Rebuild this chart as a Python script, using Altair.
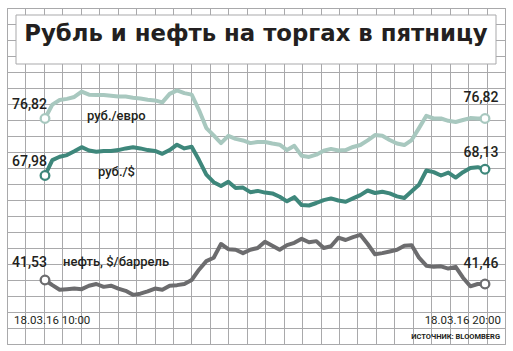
import altair as alt
import pandas as pd

# ---- data ----
times = pd.date_range("2016-03-18 10:00", periods=61, freq="10min")

euro = [76.82, 77.18, 77.30, 77.33, 77.38, 77.52, 77.44, 77.43, 77.43, 77.41,
        77.39, 77.39, 77.36, 77.34, 77.31, 77.29, 77.24, 77.46, 77.55, 77.48,
        77.44, 77.04, 76.57, 76.38, 76.18, 76.37, 76.29, 76.25, 76.18, 76.21,
        76.21, 76.17, 76.14, 76.00, 76.11, 75.85, 75.82, 75.88, 75.98, 76.03,
        75.99, 76.00, 76.08, 76.13, 76.25, 76.39, 76.37, 76.26, 76.17, 76.13,
        76.26, 76.57, 76.89, 76.82, 76.82, 76.76, 76.73, 76.78, 76.83, 76.82,
        76.82]

usd = [67.98, 68.35, 68.43, 68.47, 68.56, 68.66, 68.58, 68.55, 68.57, 68.57,
       68.59, 68.63, 68.66, 68.63, 68.59, 68.57, 68.50, 68.59, 68.72, 68.63,
       68.67, 68.35, 68.00, 67.82, 67.73, 67.83, 67.68, 67.69, 67.58, 67.61,
       67.57, 67.55, 67.47, 67.36, 67.46, 67.27, 67.26, 67.32, 67.39, 67.43,
       67.38, 67.35, 67.43, 67.51, 67.62, 67.56, 67.59, 67.55, 67.48, 67.44,
       67.60, 67.76, 68.10, 68.06, 67.98, 68.05, 67.93, 68.06, 68.16, 68.18,
       68.13]

oil = [41.53, 41.44, 41.36, 41.37, 41.38, 41.37, 41.43, 41.46, 41.41, 41.43,
       41.38, 41.34, 41.27, 41.29, 41.33, 41.38, 41.36, 41.43, 41.44, 41.46,
       41.53, 41.71, 41.86, 41.92, 42.16, 42.07, 42.06, 42.00, 42.06, 42.09,
       42.20, 42.13, 42.06, 42.14, 42.18, 42.25, 42.19, 42.21, 42.09, 42.12,
       42.27, 42.23, 42.28, 42.32, 42.16, 41.98, 42.00, 42.03, 42.06, 42.13,
       42.14, 41.92, 41.78, 41.76, 41.77, 41.73, 41.76, 41.57, 41.42, 41.46,
       41.46]

series_names = ["руб./евро", "руб./$", "нефть, $/баррель"]
start_labels = ["76,82", "67,98", "41,53"]
end_labels = ["76,82", "68,13", "41,46"]
title_text = "Рубль и нефть на торгах в пятницу"
date_start = "18.03.16 10:00"
date_end = "18.03.16 20:00"
source_text = "ИСТОЧНИК: BLOOMBERG"

# ---- styling ----
W, H = 498, 336
GRID = "#a9a9ab"
TEXT = "#231f20"
colors = ["#a8c8bf", "#3e877b", "#6c6c6e"]
domains = [[70.957, 79.693], [63.936, 72.0], [40.41, 46.29]]
label_offsets = [(-10, -17), (-9.5, -12), (-13.5, -15.7)]  # (start dy, end dy)
name_pos = [(80, 112), (91, 168), (56, 258)]

xscale = alt.Scale(
    domain=[alt.DateTime(year=2016, month=3, date=18, hours=9, minutes=8, seconds=11),
            alt.DateTime(year=2016, month=3, date=18, hours=20, minutes=27, seconds=16)],
    nice=False,
)

layers = []

# grid
grid_df = pd.DataFrame({"gx": [0, 27], "gy": [0, 21]})
grid = alt.Chart(grid_df).mark_point(opacity=0).encode(
    x=alt.X("gx:Q", scale=alt.Scale(domain=[0, 27], nice=False, zero=False),
            axis=alt.Axis(values=list(range(28)), grid=True, gridColor=GRID, gridWidth=1,
                          labels=False, ticks=False, domain=False, title=None)),
    y=alt.Y("gy:Q", scale=alt.Scale(domain=[0, 21], nice=False, zero=False),
            axis=alt.Axis(values=list(range(22)), grid=True, gridColor=GRID, gridWidth=1,
                          labels=False, ticks=False, domain=False, title=None)),
)
layers.append(grid)

# title box
box = alt.Chart(pd.DataFrame({"t": [title_text]})).mark_rect(
    fill="white", stroke=GRID, strokeWidth=1
).encode(x=alt.value(9), x2=alt.value(489), y=alt.value(7), y2=alt.value(56))
layers.append(box)

title = alt.Chart(pd.DataFrame({"t": [title_text]})).mark_text(
    font="DejaVu Sans", fontSize=22.8, fontWeight="bold", color=TEXT, align="center",
    baseline="alphabetic"
).encode(text="t:N", x=alt.value(249), y=alt.value(33))
layers.append(title)

for vals, col, dom, (dy0, dy1), lbl0, lbl1, name, (nx, ny) in zip(
        [euro, usd, oil], colors, domains, label_offsets, start_labels, end_labels,
        series_names, name_pos):
    df = pd.DataFrame({"time": times, "value": vals})
    ysc = alt.Scale(domain=dom, nice=False, zero=False)
    X = alt.X("time:T", scale=xscale, axis=None)
    Y = alt.Y("value:Q", scale=ysc, axis=None)
    line = alt.Chart(df).mark_line(color=col, strokeWidth=4, strokeJoin="round",
                                   strokeCap="round").encode(x=X, y=Y)
    ends = pd.DataFrame({"time": [times[0], times[-1]], "value": [vals[0], vals[-1]],
                         "label": [lbl0, lbl1]})
    pts = alt.Chart(ends).mark_point(shape="circle", size=75, filled=True, fill="white",
                                     stroke=col, strokeWidth=2.3, opacity=1).encode(x=X, y=Y)
    t0 = alt.Chart(ends.iloc[[0]]).mark_text(
        font="Roboto", fontSize=14, fontWeight=500, color=TEXT, align="right",
        baseline="alphabetic", dx=2, dy=dy0).encode(x=X, y=Y, text="label:N")
    t1 = alt.Chart(ends.iloc[[1]]).mark_text(
        font="Roboto", fontSize=14, fontWeight=500, color=TEXT, align="right",
        baseline="alphabetic", dx=13.5, dy=dy1).encode(x=X, y=Y, text="label:N")
    nm = alt.Chart(pd.DataFrame({"t": [name]})).mark_text(
        font="Roboto", fontSize=13, fontWeight=500, color=TEXT, align="left",
        baseline="alphabetic").encode(text="t:N", x=alt.value(nx), y=alt.value(ny))
    layers += [line, pts, t0, t1, nm]

d0 = alt.Chart(pd.DataFrame({"t": [date_start]})).mark_text(
    font="Roboto", fontSize=11.5, color=TEXT, align="left", baseline="alphabetic"
).encode(text="t:N", x=alt.value(7), y=alt.value(315.5))
d1 = alt.Chart(pd.DataFrame({"t": [date_end]})).mark_text(
    font="Roboto", fontSize=11.5, color=TEXT, align="right", baseline="alphabetic"
).encode(text="t:N", x=alt.value(494), y=alt.value(315.5))
src = alt.Chart(pd.DataFrame({"t": [source_text]})).mark_text(
    font="Roboto", fontSize=7.5, fontWeight="bold", color=TEXT, align="right",
    baseline="alphabetic"
).encode(text="t:N", x=alt.value(493), y=alt.value(331))
layers += [d0, d1, src]

chart = alt.layer(*layers).resolve_scale(x="independent", y="independent").properties(
    width=W, height=H,
    padding={"left": 7, "top": 8, "right": 8, "bottom": 7},
    autosize=alt.AutoSizeParams(type="none"),
    background="white",
).configure_view(stroke=GRID, strokeWidth=1)

chart.save("out.html", embed_options={"renderer": "svg", "actions": False})
